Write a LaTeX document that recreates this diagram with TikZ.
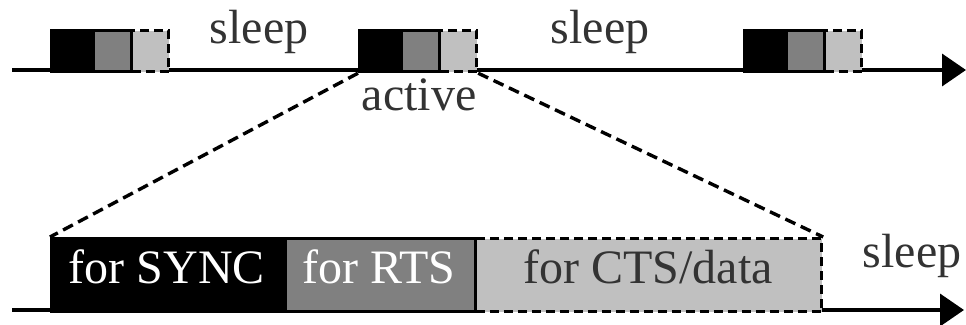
\documentclass[tikz,border=0pt]{standalone}
\usepackage{fontspec}
\setmainfont{Liberation Serif}
\usetikzlibrary{arrows.meta}
\definecolor{rtsgray}{HTML}{808080}
\definecolor{ctsgray}{HTML}{C0C0C0}
\definecolor{inkgray}{HTML}{333333}
\begin{document}
\begin{tikzpicture}[x=1pt,y=-1pt,
  slot/.style={draw=black,line width=3.2pt,inner sep=0pt,anchor=north west},
  syncslot/.style={slot,fill=black},
  rtsslot/.style={slot,fill=rtsgray},
  ctsslot/.style={slot,fill=ctsgray,dash pattern=on 9pt off 5pt},
  timeline/.style={line width=3.6pt,-{Triangle[length=24pt,width=32pt]}},
  zoomline/.style={line width=3.4pt,dash pattern=on 11pt off 6pt},
  lbl/.style={font=\fontsize{48}{48}\selectfont,anchor=base,inner sep=0pt,text=inkgray},
  inlbl/.style={lbl,text=white}]
\useasboundingbox (0,0) rectangle (966,324);

% upper time axis
\coordinate (t0) at (12,70);
\coordinate (t1) at (966,70);
\draw[timeline] (t0) -- (t1);

% three short active periods on the upper axis
\foreach \n/\x in {a/50,b/358,c/743}{
  \node[ctsslot,minimum width=37pt,minimum height=41pt] (\n3) at (\x+80,29) {};
  \node[rtsslot,minimum width=38pt,minimum height=41pt] (\n2) at (\x+42,29) {};
  \node[syncslot,minimum width=42pt,minimum height=41pt] (\n1) at (\x,29) {};
}

\node[lbl] (s1) at (259,43) {sleep};
\node[lbl] (s2) at (600,43) {sleep};
\node[lbl] (act) at (419,110) {active};

% lower time axis with the enlarged active period
\coordinate (u0) at (12,310);
\coordinate (u1) at (964,310);
\draw[timeline] (u0) -- (u1);

\node[ctsslot,minimum width=346pt,minimum height=73pt] (C) at (474,237) {};
\node[rtsslot,minimum width=190pt,minimum height=73pt] (R) at (284,237) {};
\node[syncslot,minimum width=234pt,minimum height=73pt] (S) at (50,237) {};

\node[inlbl] at (167,283) {for SYNC};
\node[inlbl] at (379,283) {for RTS};
\node[lbl] at (648,283) {for CTS/data};
\node[lbl] (s3) at (912,267) {sleep};

% zoom lines from the middle active period
\draw[zoomline] (b1.south west) -- (S.north west);
\draw[zoomline] (b3.south east) -- (C.north east);
\end{tikzpicture}
\end{document}
